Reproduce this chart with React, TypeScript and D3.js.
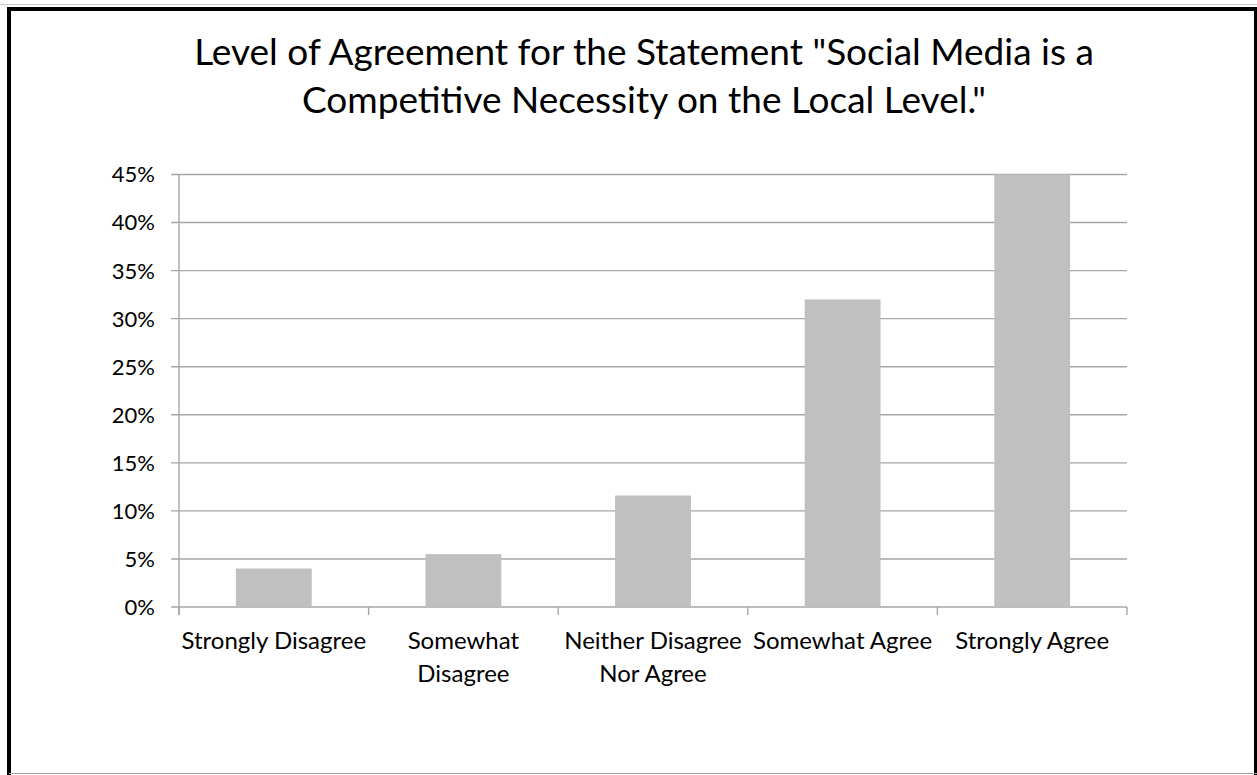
import React from "react";
import * as d3 from "d3";

const categories = [
  "Strongly Disagree",
  "Somewhat Disagree",
  "Neither Disagree Nor Agree",
  "Somewhat Agree",
  "Strongly Agree",
];
const labelLines = [
  ["Strongly Disagree"],
  ["Somewhat", "Disagree"],
  ["Neither Disagree", "Nor Agree"],
  ["Somewhat Agree"],
  ["Strongly Agree"],
];
const values = [0.04, 0.055, 0.116, 0.32, 0.45];
const yTicks = [0, 0.05, 0.1, 0.15, 0.2, 0.25, 0.3, 0.35, 0.4, 0.45];
const titleLines = [
  'Level of Agreement for the Statement "Social Media is a',
  'Competitive Necessity on the Local Level."',
];

const W = 1257;
const H = 775;
const FONT = "Lato, 'Open Sans', sans-serif";

export default function App() {
  const left = 179;
  const right = 1127;
  const top = 174.5;
  const bottom = 607;

  const x = d3
    .scaleBand<string>()
    .domain(categories)
    .range([left, right])
    .paddingInner(0.6)
    .paddingOuter(0.3);
  const y = d3.scaleLinear().domain([0, 0.45]).range([bottom, top]);
  const step = x.step();
  const fmt = d3.format(".0%");
  const boundaries = d3.range(categories.length + 1).map((i) => left + i * step);

  return (
    <svg
      width={W}
      height={H}
      style={{ position: "absolute", left: 0, top: 0, background: "#fff" }}
    >
      <rect x={0} y={0} width={W} height={H} fill="#fff" />
      {/* outer frame */}
      <line x1={0} x2={W} y1={4.5} y2={4.5} stroke="#c8c8c8" strokeWidth={1} />
      <line x1={9} x2={9} y1={7} y2={775} stroke="#000" strokeWidth={4} />
      <line x1={7} x2={1257} y1={9} y2={9} stroke="#000" strokeWidth={4} />
      <line x1={1255.5} x2={1255.5} y1={7} y2={775} stroke="#000" strokeWidth={3} />
      <line x1={9} x2={1257} y1={773.5} y2={773.5} stroke="#a0a0a0" strokeWidth={1} />

      {/* title */}
      {titleLines.map((t, i) => (
        <text
          key={i}
          x={644}
          y={65 + i * 48}
          textAnchor="middle"
          fontFamily={FONT}
          fontSize={37}
          fill="#000"
        >
          {t}
        </text>
      ))}

      {/* gridlines and y ticks */}
      {yTicks.map((t) => (
        <g key={t}>
          <line
            x1={171}
            x2={right}
            y1={y(t)}
            y2={y(t)}
            stroke="#a6a6a6"
            strokeWidth={1.4}
          />
          <text
            x={155}
            y={y(t)}
            dy="0.36em"
            textAnchor="end"
            fontFamily={FONT}
            fontSize={22}
            fill="#000"
          >
            {fmt(t)}
          </text>
        </g>
      ))}

      {/* y axis line */}
      <line x1={left} x2={left} y1={top} y2={615} stroke="#a6a6a6" strokeWidth={1.4} />

      {/* x tick marks */}
      {boundaries.map((b, i) => (
        <line
          key={i}
          x1={b}
          x2={b}
          y1={bottom}
          y2={615}
          stroke="#a6a6a6"
          strokeWidth={1.4}
        />
      ))}

      {/* bars */}
      {categories.map((c, i) => (
        <rect
          key={c}
          x={x(c)}
          y={y(values[i])}
          width={x.bandwidth()}
          height={bottom - y(values[i])}
          fill="#c0c0c0"
        />
      ))}

      {/* x labels */}
      {categories.map((c, i) => (
        <text
          key={c}
          x={(x(c) as number) + x.bandwidth() / 2}
          y={649}
          textAnchor="middle"
          fontFamily={FONT}
          fontSize={24}
          fill="#000"
        >
          {labelLines[i].map((l, j) => (
            <tspan key={j} x={(x(c) as number) + x.bandwidth() / 2} dy={j === 0 ? 0 : 33}>
              {l}
            </tspan>
          ))}
        </text>
      ))}
    </svg>
  );
}
